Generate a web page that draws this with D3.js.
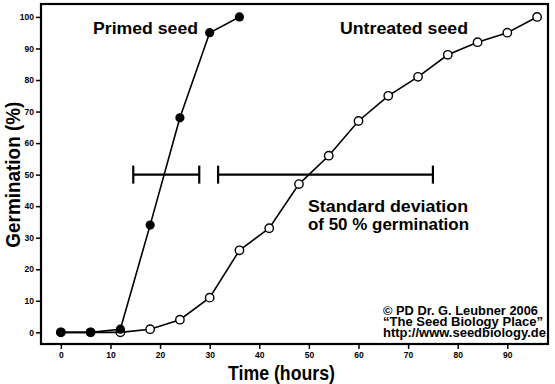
<!DOCTYPE html>
<html lang="en">
<head>
<meta charset="UTF-8" />
<title>Germination time course</title>
<script src="https://d3js.org/d3.v7.min.js"></script>
<style>
  body { margin: 0; background: #fff; }
  svg { display: block; font-family: "Liberation Sans", Arial, sans-serif; font-weight: bold; }
  .tick text { font-size: 8.5px; font-weight: bold; font-family: "Liberation Sans", Arial, sans-serif; }
</style>
</head>
<body>
<div id="chart"></div>
<script>
const hours = [0, 6, 12, 18, 24, 30, 36, 42, 48, 54, 60, 66, 72, 78, 84, 90, 96];
const primed = [0, 0, 1, 34, 68, 95, 100];
const untreated = [0, 0, 0, 1, 4, 11, 26, 33, 47, 56, 67, 75, 81, 88, 92, 95, 100];
const xTicks = [0, 10, 20, 30, 40, 50, 60, 70, 80, 90];
const yTicks = [0, 10, 20, 30, 40, 50, 60, 70, 80, 90, 100];
// spread of 50 % germination: [from, to] in hours
const sdPrimed = [14.6, 27.9];
const sdUntreated = [31.7, 75];

const width = 555, height = 384;
const box = { left: 41, top: 4, right: 548, bottom: 344 };

const svg = d3.select("#chart").append("svg")
  .attr("width", width)
  .attr("height", height);

const x = d3.scaleLinear().domain([-4, 98.2]).range([box.left, box.right]);
const y = d3.scaleLinear().domain([-3.7, 104.1]).range([box.bottom, box.top]);

// axes
svg.append("g")
  .attr("transform", `translate(0,${box.bottom})`)
  .call(d3.axisBottom(x).tickValues(xTicks).tickSize(5).tickPadding(3))
  .call(g => g.select(".domain").remove())
  .call(g => g.selectAll("line").attr("stroke-width", 1.5));

svg.append("g")
  .attr("transform", `translate(${box.left},0)`)
  .call(d3.axisLeft(y).tickValues(yTicks).tickSize(5).tickPadding(2))
  .call(g => g.select(".domain").remove())
  .call(g => g.selectAll("line").attr("stroke-width", 1.5));

svg.append("rect")
  .attr("x", box.left).attr("y", box.top)
  .attr("width", box.right - box.left).attr("height", box.bottom - box.top)
  .attr("fill", "none").attr("stroke", "#000").attr("stroke-width", 2.2);

// error bars at 50 %
function sdBar(r) {
  const g = svg.append("g").attr("stroke", "#000").attr("stroke-width", 2.2);
  g.append("line").attr("x1", x(r[0])).attr("x2", x(r[1])).attr("y1", y(50)).attr("y2", y(50));
  r.forEach(v => g.append("line").attr("x1", x(v)).attr("x2", x(v))
    .attr("y1", y(50) - 9).attr("y2", y(50) + 9));
}
sdBar(sdPrimed);
sdBar(sdUntreated);

const line = d3.line().x(d => x(d[0])).y(d => y(d[1]));
const untreatedPts = untreated.map((v, i) => [hours[i], v]);
const primedPts = primed.map((v, i) => [hours[i], v]);

svg.append("path").datum(untreatedPts).attr("d", line)
  .attr("fill", "none").attr("stroke", "#000").attr("stroke-width", 1.6);
svg.append("path").datum(primedPts).attr("d", line)
  .attr("fill", "none").attr("stroke", "#000").attr("stroke-width", 1.6);

svg.selectAll(".open").data(untreatedPts).enter().append("circle")
  .attr("class", "open")
  .attr("cx", d => x(d[0])).attr("cy", d => y(d[1])).attr("r", 4.2)
  .attr("fill", "#fff").attr("stroke", "#000").attr("stroke-width", 1.4);
svg.selectAll(".filled").data(primedPts).enter().append("circle")
  .attr("class", "filled")
  .attr("cx", d => x(d[0])).attr("cy", d => y(d[1])).attr("r", 4.6)
  .attr("fill", "#000");

// labels (text squeezed to the widths seen in the original)
const label = (tx, ty, s, size, len, anchor) => svg.append("text")
  .attr("x", tx).attr("y", ty).attr("font-size", size)
  .attr("text-anchor", anchor || "start")
  .attr("textLength", len).attr("lengthAdjust", "spacingAndGlyphs")
  .text(s);

label(93, 34, "Primed seed", 16, 105);
label(340, 34, "Untreated seed", 16, 128);
label(308, 212, "Standard deviation", 16, 160);
label(308, 229.5, "of 50 % germination", 16, 161);
label(383, 314.5, "© PD Dr. G. Leubner 2006", 12.5, 155);
label(383, 325.5, "“The Seed Biology Place”", 12.5, 160);
label(383, 336.5, "http://www.seedbiology.de", 12.5, 163);

label(228, 380, "Time (hours)", 20.5, 107);
svg.append("text")
  .attr("transform", `translate(19.5,${y(50)}) rotate(-90)`)
  .attr("font-size", 20.5).attr("text-anchor", "middle")
  .attr("textLength", 146).attr("lengthAdjust", "spacingAndGlyphs")
  .text("Germination (%)");
</script>
</body>
</html>
